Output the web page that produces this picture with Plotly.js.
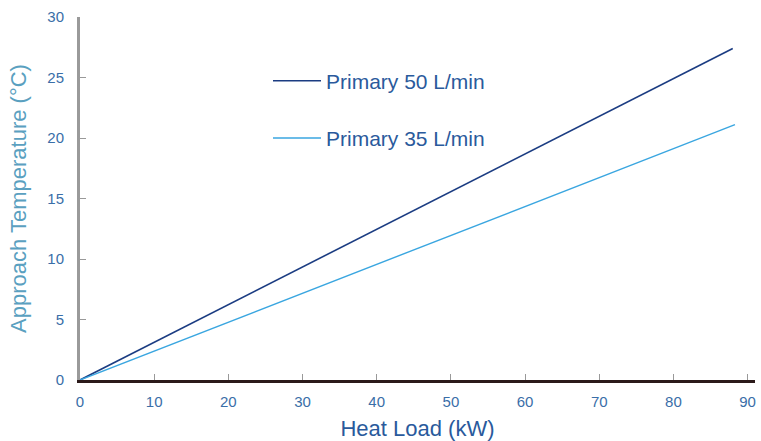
<!DOCTYPE html>
<html><head><meta charset="utf-8">
<script src="https://cdn.plot.ly/plotly-3.0.1.min.js"></script>
<style>html,body{margin:0;padding:0;background:#fff}#chart{width:761px;height:441px}</style>
</head><body><div id="chart"></div>
<script>
const heatLoad50 = [0, 88];
const approach50 = [0, 27.4];
const heatLoad35 = [0, 88.3];
const approach35 = [0, 21.1];
const seriesNames = ["Primary 50 L/min", "Primary 35 L/min"];
const xTicks = [0, 10, 20, 30, 40, 50, 60, 70, 80, 90];
const yTicks = [0, 5, 10, 15, 20, 25, 30];

const traces = [
  {x: heatLoad50, y: approach50, name: seriesNames[0], mode: "lines", legendgroup: "a",
   line: {color: "#1b3c82", width: 1.6}},
  {x: heatLoad35, y: approach35, name: seriesNames[1], mode: "lines", legendgroup: "b",
   line: {color: "#3aa6e0", width: 1.4}}
];
const layout = {
  width: 761, height: 441,
  margin: {l: 80, r: 6, t: 17, b: 61, autoexpand: false},
  paper_bgcolor: "#fff", plot_bgcolor: "#fff",
  font: {family: "Liberation Sans, Arial, sans-serif"},
  showlegend: true,
  legend: {x: (268 - 80) / 675, y: 0.88, xanchor: "left", yanchor: "top", traceorder: "grouped",
    tracegroupgap: 27, itemwidth: 48, bgcolor: "rgba(0,0,0,0)",
    font: {size: 21, color: "#2a5a9c", family: "Liberation Sans, Arial, sans-serif"}},
  xaxis: {range: [0, 91], tickvals: xTicks, ticks: "inside", ticklen: 6, tickcolor: "#999",
    showline: true, linecolor: "#2b1a1a", linewidth: 3, showgrid: false, zeroline: false,
    tickfont: {size: 15, color: "#3a6ea8"}, ticklabelstandoff: 6,
    title: {text: "Heat Load (kW)", font: {size: 22, color: "#2a5a9c"}, standoff: 14}},
  yaxis: {range: [0, 30], tickvals: yTicks, ticks: "inside", ticklen: 6, tickcolor: "#999",
    showline: true, linecolor: "#9a9a9a", linewidth: 3, showgrid: false, zeroline: false,
    tickfont: {size: 15, color: "#3a6ea8"}, ticklabelstandoff: 10,
    title: {text: "Approach Temperature (°C)", font: {size: 22, color: "#5aa0c0"}, standoff: 15}}
};
Plotly.newPlot("chart", traces, layout, {displayModeBar: false, staticPlot: true});
</script></body></html>
